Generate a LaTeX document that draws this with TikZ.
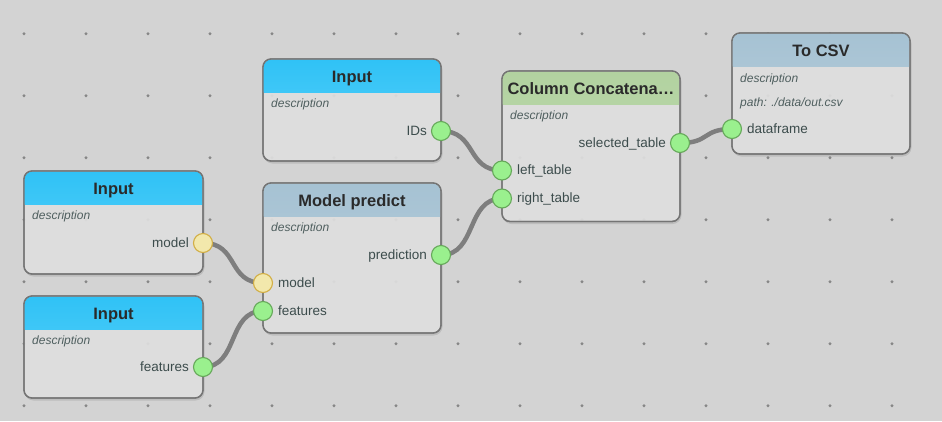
\documentclass[tikz,border=0pt]{standalone}
\usepackage{fontspec}
\setmainfont{Liberation Sans}
\definecolor{bgc}{HTML}{D3D3D3}
\definecolor{dotc}{HTML}{868686}
\definecolor{bodyc}{HTML}{E0E0E0}
\definecolor{borderc}{HTML}{747474}
\definecolor{inTop}{HTML}{30C2F6}
\definecolor{inBot}{HTML}{5CD2F8}
\definecolor{mpTop}{HTML}{A6C2D3}
\definecolor{mpBot}{HTML}{B8CFDC}
\definecolor{ccTop}{HTML}{B2D2A0}
\definecolor{ccBot}{HTML}{C2DCB4}
\definecolor{portG}{HTML}{9AF08E}
\definecolor{portGb}{HTML}{66A85A}
\definecolor{portY}{HTML}{F2E8AC}
\definecolor{portYb}{HTML}{D2AE45}
\definecolor{wirec}{HTML}{7E7E7E}
\definecolor{titlec}{HTML}{2A2A2A}
\definecolor{labelc}{HTML}{3C4C4C}
\definecolor{descc}{HTML}{4F5F5F}
\pgfdeclarelayer{bg}\pgfdeclarelayer{wires}\pgfsetlayers{bg,wires,main}
\tikzset{
 nodebody/.style={draw=borderc, line width=1.3pt, fill=bodyc, fill opacity=0.92, rounded corners=8pt, inner sep=0pt, outer sep=0pt, anchor=north west},
 shadowbox/.style={fill=black, opacity=0.10, rounded corners=9pt},
 titletext/.style={text=titlec, font=\fontsize{16.5}{18}\selectfont\bfseries, inner sep=0pt, anchor=base},
 desctext/.style={text=descc, font=\fontsize{12}{14}\selectfont\itshape, inner sep=0pt, anchor=base west},
 portlabel/.style={text=labelc, font=\fontsize{13.5}{15}\selectfont, inner sep=0pt},
 rlabel/.style={portlabel, anchor=base east},
 llabel/.style={portlabel, anchor=base west},
 gport/.style={circle, minimum size=19pt, inner sep=0pt, fill=portG, draw=portGb, line width=1.1pt},
 yport/.style={gport, fill=portY, draw=portYb},
 wire/.style={draw=wirec, line width=4.5pt},
}
% name, left, top, width, height, topcolor, bottomcolor, title
\newcommand{\flowbox}[8]{%
  \fill[shadowbox] (#2+0.5,#3+1.5) rectangle (#2+#4+1.5,#3+#5+2.5);
  \node[nodebody, minimum width=#4pt, minimum height=#5pt] (#1) at (#2,#3) {};
  \begin{scope}
    \clip (#2,#3) rectangle (#2+#4,#3+33);
    \shade[top color=#6, bottom color=#7, rounded corners=7.4pt] (#2+0.65,#3+0.65) rectangle (#2+#4-0.65,#3+#5-0.65);
  \end{scope}
  \draw[draw=borderc, line width=1.3pt, rounded corners=8pt] (#1.north west) rectangle (#1.south east);
  \node[titletext] (#1-title) at (#2+#4/2,#3+23.6) {#8};
}
\begin{document}
\begin{tikzpicture}[x=1pt,y=-1pt]
\useasboundingbox (0,0) rectangle (942,421);
\begin{pgfonlayer}{bg}
  \fill[bgc] (0,0) rectangle (942,421);
  \foreach \i in {0,...,14}{\foreach \j in {0,...,6}{\fill[dotc] (24+62*\i,33.7+62*\j) circle (1.6pt);}}
\end{pgfonlayer}

% Input (model)
\flowbox{in1}{24}{171}{179}{103}{inTop}{inBot}{Input}
\node[desctext] (in1-desc) at (32,219) {description};
\node[yport] (in1-model) at (203,243) {};
\node[rlabel] (in1-modell) at (189,247.3) {model};

% Input (features)
\flowbox{in2}{24}{296}{179}{102}{inTop}{inBot}{Input}
\node[desctext] (in2-desc) at (32,344) {description};
\node[gport] (in2-features) at (203,367) {};
\node[rlabel] (in2-featuresl) at (189,371.3) {features};

% Input (IDs)
\flowbox{in3}{263}{59}{178}{102}{inTop}{inBot}{Input}
\node[desctext] (in3-desc) at (271,107.3) {description};
\node[gport] (in3-ids) at (441,131) {};
\node[rlabel] (in3-idsl) at (427,135.3) {IDs};

% Model predict
\flowbox{mp}{263}{183}{178}{150}{mpTop}{mpBot}{Model predict}
\node[desctext] (mp-desc) at (271,231.5) {description};
\node[gport] (mp-prediction) at (441,255) {};
\node[rlabel] (mp-predictionl) at (427,259.3) {prediction};
\node[yport] (mp-model) at (263,283) {};
\node[llabel] (mp-modell) at (278,287.3) {model};
\node[gport] (mp-features) at (263,311) {};
\node[llabel] (mp-featuresl) at (278,315.3) {features};

% Column Concatenate
\flowbox{cc}{502}{71}{178}{150.5}{ccTop}{ccBot}{Column Concatena…}
\node[desctext] (cc-desc) at (510,119.3) {description};
\node[gport] (cc-sel) at (680,143) {};
\node[rlabel] (cc-sell) at (666,147.3) {selected\_table};
\node[gport] (cc-left) at (502,170.5) {};
\node[llabel] (cc-leftl) at (517,174.8) {left\_table};
\node[gport] (cc-right) at (502,198.5) {};
\node[llabel] (cc-rightl) at (517,202.8) {right\_table};

% To CSV
\flowbox{csv}{732}{33}{178}{121}{mpTop}{mpBot}{To CSV}
\node[desctext] (csv-desc) at (740,82.5) {description};
\node[desctext] (csv-path) at (740,106) {path: ./data/out.csv};
\node[gport] (csv-df) at (732,129) {};
\node[llabel] (csv-dfl) at (747,133.3) {dataframe};

\begin{pgfonlayer}{wires}
  \draw[wire] (in1-model.center) .. controls +(36,0) and +(-36,0) .. (mp-model.center);
  \draw[wire] (in2-features.center) .. controls +(36,0) and +(-36,0) .. (mp-features.center);
  \draw[wire] (in3-ids.center) .. controls +(36,0) and +(-36,0) .. (cc-left.center);
  \draw[wire] (mp-prediction.center) .. controls +(36,0) and +(-36,0) .. (cc-right.center);
  \draw[wire] (cc-sel.center) .. controls +(30,0) and +(-30,0) .. (csv-df.center);
\end{pgfonlayer}
\end{tikzpicture}
\end{document}
